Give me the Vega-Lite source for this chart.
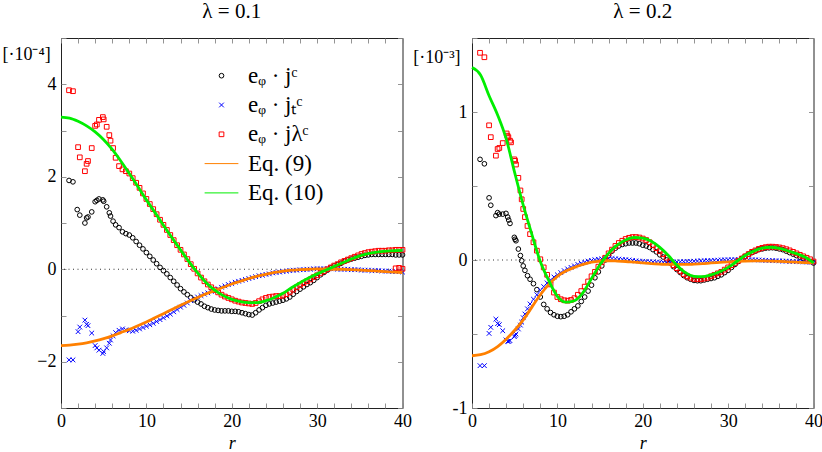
{
  "$schema": "https://vega.github.io/schema/vega-lite/v6.json",
  "padding": {"left": 1, "top": 0, "right": 0, "bottom": 0},
  "background": "white",
  "spacing": 0,
  "config": {
    "font": "Liberation Serif",
    "view": {"stroke": "#222", "strokeWidth": 1},
    "axis": {
      "grid": false, "domain": false, "tickSize": -5, "tickColor": "#888", "tickWidth": 0.9,
      "labelFont": "Liberation Serif", "labelFontSize": 18, "labelColor": "black",
      "labelFlush": false, "labelOverlap": false, "labelBound": false,
      "titleFont": "Liberation Serif", "titleFontSize": 18, "titleColor": "black", "titleFontWeight": "normal"
    },
    "title": {"font": "Liberation Serif", "fontSize": 21, "fontWeight": "normal", "color": "black", "offset": 7}
  },
  "resolve": {
    "scale": {"color": "independent", "shape": "independent"},
    "legend": {"color": "independent", "shape": "independent"}
  },
  "datasets": {
    "lp": [
      {"s":"c","r":0.94,"v":1.92},{"s":"c","r":1.4,"v":1.89},{"s":"c","r":1.9,"v":1.29},{"s":"c","r":2.2,"v":1.17},{"s":"c","r":2.8,"v":1.0},{"s":"c","r":3.0,"v":1.11},{"s":"c","r":3.16,"v":1.13},{"s":"c","r":3.6,"v":1.24},{"s":"c","r":4.0,"v":1.46},{"s":"c","r":4.2,"v":1.49},{"s":"c","r":4.45,"v":1.52},{"s":"c","r":4.9,"v":1.5},{"s":"c","r":5.0,"v":1.47},{"s":"c","r":5.35,"v":1.35},{"s":"c","r":5.66,"v":1.22},{"s":"c","r":5.8,"v":1.15},{"s":"c","r":6.1,"v":1.04},{"s":"c","r":6.4,"v":0.96},
      {"s":"c","r":6.8,"v":0.9},{"s":"c","r":7.2,"v":0.81},{"s":"c","r":7.6,"v":0.77},{"s":"c","r":8.0,"v":0.74},{"s":"c","r":8.4,"v":0.68},{"s":"c","r":8.8,"v":0.6},{"s":"c","r":9.2,"v":0.52},{"s":"c","r":9.6,"v":0.44},{"s":"c","r":10.0,"v":0.36},{"s":"c","r":10.4,"v":0.28},{"s":"c","r":10.8,"v":0.2},{"s":"c","r":11.2,"v":0.12},{"s":"c","r":11.6,"v":0.04},{"s":"c","r":12.0,"v":-0.03},{"s":"c","r":12.4,"v":-0.1},{"s":"c","r":12.8,"v":-0.18},{"s":"c","r":13.2,"v":-0.26},{"s":"c","r":13.6,"v":-0.34},{"s":"c","r":14.0,"v":-0.42},{"s":"c","r":14.4,"v":-0.49},{"s":"c","r":14.8,"v":-0.55},{"s":"c","r":15.2,"v":-0.61},{"s":"c","r":15.6,"v":-0.66},{"s":"c","r":16.0,"v":-0.71},{"s":"c","r":16.4,"v":-0.75},{"s":"c","r":16.8,"v":-0.8},{"s":"c","r":17.2,"v":-0.83},{"s":"c","r":17.6,"v":-0.86},{"s":"c","r":18.0,"v":-0.88},{"s":"c","r":18.4,"v":-0.89},{"s":"c","r":18.8,"v":-0.9},{"s":"c","r":19.2,"v":-0.9},{"s":"c","r":19.6,"v":-0.9},{"s":"c","r":20.0,"v":-0.91},{"s":"c","r":20.4,"v":-0.91},{"s":"c","r":20.8,"v":-0.92},{"s":"c","r":21.2,"v":-0.94},{"s":"c","r":21.6,"v":-0.96},{"s":"c","r":22.0,"v":-0.98},{"s":"c","r":22.4,"v":-0.99},{"s":"c","r":22.8,"v":-0.94},{"s":"c","r":23.2,"v":-0.88},{"s":"c","r":23.6,"v":-0.83},{"s":"c","r":24.0,"v":-0.78},{"s":"c","r":24.4,"v":-0.75},{"s":"c","r":24.8,"v":-0.73},{"s":"c","r":25.2,"v":-0.71},{"s":"c","r":25.6,"v":-0.69},{"s":"c","r":26.0,"v":-0.67},{"s":"c","r":26.4,"v":-0.64},{"s":"c","r":26.8,"v":-0.6},{"s":"c","r":27.2,"v":-0.54},{"s":"c","r":27.6,"v":-0.48},{"s":"c","r":28.0,"v":-0.43},{"s":"c","r":28.4,"v":-0.38},{"s":"c","r":28.8,"v":-0.33},{"s":"c","r":29.2,"v":-0.29},{"s":"c","r":29.6,"v":-0.24},{"s":"c","r":30.0,"v":-0.18},{"s":"c","r":30.4,"v":-0.12},{"s":"c","r":30.8,"v":-0.07},{"s":"c","r":31.2,"v":-0.02},{"s":"c","r":31.6,"v":0.03},{"s":"c","r":32.0,"v":0.07},{"s":"c","r":32.4,"v":0.1},{"s":"c","r":32.8,"v":0.13},{"s":"c","r":33.2,"v":0.17},{"s":"c","r":33.6,"v":0.2},{"s":"c","r":34.0,"v":0.22},{"s":"c","r":34.4,"v":0.24},{"s":"c","r":34.8,"v":0.26},{"s":"c","r":35.2,"v":0.28},{"s":"c","r":35.6,"v":0.3},{"s":"c","r":36.0,"v":0.31},{"s":"c","r":36.4,"v":0.32},{"s":"c","r":36.8,"v":0.32},{"s":"c","r":37.2,"v":0.32},{"s":"c","r":37.6,"v":0.32},{"s":"c","r":38.0,"v":0.32},{"s":"c","r":38.4,"v":0.32},{"s":"c","r":38.8,"v":0.32},{"s":"c","r":39.2,"v":0.31},{"s":"c","r":39.6,"v":0.31},{"s":"c","r":40.0,"v":0.31},
      {"s":"t","r":0.94,"v":-1.96},{"s":"t","r":1.4,"v":-1.96},{"s":"t","r":2.0,"v":-1.35},{"s":"t","r":2.2,"v":-1.25},{"s":"t","r":2.8,"v":-1.1},{"s":"t","r":3.0,"v":-1.19},{"s":"t","r":3.16,"v":-1.22},{"s":"t","r":3.6,"v":-1.38},{"s":"t","r":4.0,"v":-1.65},{"s":"t","r":4.2,"v":-1.7},{"s":"t","r":4.45,"v":-1.75},{"s":"t","r":4.9,"v":-1.82},{"s":"t","r":5.0,"v":-1.78},{"s":"t","r":5.35,"v":-1.7},{"s":"t","r":5.66,"v":-1.6},{"s":"t","r":5.8,"v":-1.53},{"s":"t","r":6.1,"v":-1.44},{"s":"t","r":6.4,"v":-1.37},
      {"s":"t","r":6.8,"v":-1.32},{"s":"t","r":7.2,"v":-1.29},{"s":"t","r":7.6,"v":-1.31},{"s":"t","r":8.0,"v":-1.33},{"s":"t","r":8.4,"v":-1.34},{"s":"t","r":8.8,"v":-1.32},{"s":"t","r":9.2,"v":-1.29},{"s":"t","r":9.6,"v":-1.26},{"s":"t","r":10.0,"v":-1.23},{"s":"t","r":10.4,"v":-1.2},{"s":"t","r":10.8,"v":-1.17},{"s":"t","r":11.2,"v":-1.13},{"s":"t","r":11.6,"v":-1.09},{"s":"t","r":12.0,"v":-1.05},{"s":"t","r":12.4,"v":-1.01},{"s":"t","r":12.8,"v":-0.97},{"s":"t","r":13.2,"v":-0.92},{"s":"t","r":13.6,"v":-0.87},{"s":"t","r":14.0,"v":-0.82},{"s":"t","r":14.4,"v":-0.78},{"s":"t","r":14.8,"v":-0.73},{"s":"t","r":15.2,"v":-0.68},{"s":"t","r":15.6,"v":-0.64},{"s":"t","r":16.0,"v":-0.6},{"s":"t","r":16.4,"v":-0.57},{"s":"t","r":16.8,"v":-0.54},{"s":"t","r":17.2,"v":-0.51},{"s":"t","r":17.6,"v":-0.48},{"s":"t","r":18.0,"v":-0.45},{"s":"t","r":18.4,"v":-0.42},{"s":"t","r":18.8,"v":-0.39},{"s":"t","r":19.2,"v":-0.36},{"s":"t","r":19.6,"v":-0.33},{"s":"t","r":20.0,"v":-0.31},{"s":"t","r":20.4,"v":-0.28},{"s":"t","r":20.8,"v":-0.26},{"s":"t","r":21.2,"v":-0.24},{"s":"t","r":21.6,"v":-0.22},{"s":"t","r":22.0,"v":-0.2},{"s":"t","r":22.4,"v":-0.18},{"s":"t","r":22.8,"v":-0.16},{"s":"t","r":23.2,"v":-0.14},{"s":"t","r":23.6,"v":-0.13},{"s":"t","r":24.0,"v":-0.11},{"s":"t","r":24.4,"v":-0.1},{"s":"t","r":24.8,"v":-0.08},{"s":"t","r":25.2,"v":-0.07},{"s":"t","r":25.6,"v":-0.06},{"s":"t","r":26.0,"v":-0.05},{"s":"t","r":26.4,"v":-0.04},{"s":"t","r":26.8,"v":-0.03},{"s":"t","r":27.2,"v":-0.02},{"s":"t","r":27.6,"v":-0.02},{"s":"t","r":28.0,"v":-0.01},{"s":"t","r":28.4,"v":-0.01},{"s":"t","r":28.8,"v":0.0},{"s":"t","r":29.2,"v":0.0},{"s":"t","r":29.6,"v":0.01},{"s":"t","r":30.0,"v":0.01},{"s":"t","r":30.4,"v":0.01},{"s":"t","r":30.8,"v":0.01},{"s":"t","r":31.2,"v":0.01},{"s":"t","r":31.6,"v":0.01},{"s":"t","r":32.0,"v":0.01},{"s":"t","r":32.4,"v":0.0},{"s":"t","r":32.8,"v":0.0},{"s":"t","r":33.2,"v":0.0},{"s":"t","r":33.6,"v":0.0},{"s":"t","r":34.0,"v":-0.01},{"s":"t","r":34.4,"v":-0.01},{"s":"t","r":34.8,"v":-0.01},{"s":"t","r":35.2,"v":-0.02},{"s":"t","r":35.6,"v":-0.02},{"s":"t","r":36.0,"v":-0.02},{"s":"t","r":36.4,"v":-0.03},{"s":"t","r":36.8,"v":-0.03},{"s":"t","r":37.2,"v":-0.03},{"s":"t","r":37.6,"v":-0.04},{"s":"t","r":38.0,"v":-0.04},{"s":"t","r":38.4,"v":-0.04},{"s":"t","r":38.8,"v":-0.05},{"s":"t","r":39.2,"v":-0.05},{"s":"t","r":39.6,"v":-0.05},{"s":"t","r":40.0,"v":-0.06},
      {"s":"l","r":0.94,"v":3.87},{"s":"l","r":1.4,"v":3.85},{"s":"l","r":2.0,"v":2.64},{"s":"l","r":2.2,"v":2.42},{"s":"l","r":2.8,"v":2.12},{"s":"l","r":3.0,"v":2.28},{"s":"l","r":3.16,"v":2.34},{"s":"l","r":3.6,"v":2.62},{"s":"l","r":4.0,"v":3.1},{"s":"l","r":4.2,"v":3.13},{"s":"l","r":4.45,"v":3.23},{"s":"l","r":4.9,"v":3.29},{"s":"l","r":5.0,"v":3.24},{"s":"l","r":5.35,"v":3.08},{"s":"l","r":5.66,"v":2.9},{"s":"l","r":5.8,"v":2.78},{"s":"l","r":6.1,"v":2.62},{"s":"l","r":6.4,"v":2.41},
      {"s":"l","r":6.8,"v":2.23},{"s":"l","r":7.2,"v":2.16},{"s":"l","r":7.6,"v":2.12},{"s":"l","r":8.0,"v":2.07},{"s":"l","r":8.4,"v":1.97},{"s":"l","r":8.8,"v":1.87},{"s":"l","r":9.2,"v":1.76},{"s":"l","r":9.6,"v":1.64},{"s":"l","r":10.0,"v":1.52},{"s":"l","r":10.4,"v":1.41},{"s":"l","r":10.8,"v":1.3},{"s":"l","r":11.2,"v":1.19},{"s":"l","r":11.6,"v":1.07},{"s":"l","r":12.0,"v":0.96},{"s":"l","r":12.4,"v":0.85},{"s":"l","r":12.8,"v":0.74},{"s":"l","r":13.2,"v":0.63},{"s":"l","r":13.6,"v":0.52},{"s":"l","r":14.0,"v":0.42},{"s":"l","r":14.4,"v":0.32},{"s":"l","r":14.8,"v":0.22},{"s":"l","r":15.2,"v":0.11},{"s":"l","r":15.6,"v":0.01},{"s":"l","r":16.0,"v":-0.09},{"s":"l","r":16.4,"v":-0.18},{"s":"l","r":16.8,"v":-0.26},{"s":"l","r":17.2,"v":-0.33},{"s":"l","r":17.6,"v":-0.39},{"s":"l","r":18.0,"v":-0.45},{"s":"l","r":18.4,"v":-0.5},{"s":"l","r":18.8,"v":-0.55},{"s":"l","r":19.2,"v":-0.59},{"s":"l","r":19.6,"v":-0.62},{"s":"l","r":20.0,"v":-0.65},{"s":"l","r":20.4,"v":-0.68},{"s":"l","r":20.8,"v":-0.7},{"s":"l","r":21.2,"v":-0.72},{"s":"l","r":21.6,"v":-0.73},{"s":"l","r":22.0,"v":-0.74},{"s":"l","r":22.4,"v":-0.75},{"s":"l","r":22.8,"v":-0.73},{"s":"l","r":23.2,"v":-0.69},{"s":"l","r":23.6,"v":-0.65},{"s":"l","r":24.0,"v":-0.62},{"s":"l","r":24.4,"v":-0.6},{"s":"l","r":24.8,"v":-0.59},{"s":"l","r":25.2,"v":-0.58},{"s":"l","r":25.6,"v":-0.58},{"s":"l","r":26.0,"v":-0.57},{"s":"l","r":26.4,"v":-0.54},{"s":"l","r":26.8,"v":-0.49},{"s":"l","r":27.2,"v":-0.44},{"s":"l","r":27.6,"v":-0.39},{"s":"l","r":28.0,"v":-0.34},{"s":"l","r":28.4,"v":-0.3},{"s":"l","r":28.8,"v":-0.26},{"s":"l","r":29.2,"v":-0.22},{"s":"l","r":29.6,"v":-0.17},{"s":"l","r":30.0,"v":-0.13},{"s":"l","r":30.4,"v":-0.08},{"s":"l","r":30.8,"v":-0.04},{"s":"l","r":31.2,"v":0.0},{"s":"l","r":31.6,"v":0.04},{"s":"l","r":32.0,"v":0.08},{"s":"l","r":32.4,"v":0.11},{"s":"l","r":32.8,"v":0.15},{"s":"l","r":33.2,"v":0.18},{"s":"l","r":33.6,"v":0.21},{"s":"l","r":34.0,"v":0.24},{"s":"l","r":34.4,"v":0.27},{"s":"l","r":34.8,"v":0.3},{"s":"l","r":35.2,"v":0.33},{"s":"l","r":35.6,"v":0.35},{"s":"l","r":36.0,"v":0.37},{"s":"l","r":36.4,"v":0.38},{"s":"l","r":36.8,"v":0.39},{"s":"l","r":37.2,"v":0.4},{"s":"l","r":37.6,"v":0.4},{"s":"l","r":38.0,"v":0.4},{"s":"l","r":38.4,"v":0.41},{"s":"l","r":38.8,"v":0.41},{"s":"l","r":39.2,"v":0.42},{"s":"l","r":39.6,"v":0.42},{"s":"l","r":40.0,"v":0.42},{"s":"l","r":39.2,"v":0.02},{"s":"l","r":39.6,"v":0.03},{"s":"l","r":40.0,"v":0.01}
    ],
    "lc": [
      {"s":"9","r":0,"v":-1.65},{"s":"9","r":1,"v":-1.64},{"s":"9","r":2,"v":-1.62},{"s":"9","r":3,"v":-1.59},{"s":"9","r":4,"v":-1.55},{"s":"9","r":5,"v":-1.5},{"s":"9","r":6,"v":-1.44},{"s":"9","r":7,"v":-1.37},{"s":"9","r":8,"v":-1.3},{"s":"9","r":9,"v":-1.22},{"s":"9","r":10,"v":-1.14},{"s":"9","r":11,"v":-1.05},{"s":"9","r":12,"v":-0.96},{"s":"9","r":13,"v":-0.87},{"s":"9","r":14,"v":-0.78},{"s":"9","r":15,"v":-0.69},{"s":"9","r":16,"v":-0.61},{"s":"9","r":17,"v":-0.53},{"s":"9","r":18,"v":-0.46},{"s":"9","r":19,"v":-0.39},{"s":"9","r":20,"v":-0.32},{"s":"9","r":21,"v":-0.26},{"s":"9","r":22,"v":-0.2},{"s":"9","r":23,"v":-0.15},{"s":"9","r":24,"v":-0.11},{"s":"9","r":25,"v":-0.07},{"s":"9","r":26,"v":-0.04},{"s":"9","r":27,"v":-0.02},{"s":"9","r":28,"v":-0.01},{"s":"9","r":29,"v":0.0},{"s":"9","r":30,"v":0.01},{"s":"9","r":31,"v":0.01},{"s":"9","r":32,"v":0.0},{"s":"9","r":33,"v":0.0},{"s":"9","r":34,"v":-0.01},{"s":"9","r":35,"v":-0.02},{"s":"9","r":36,"v":-0.03},{"s":"9","r":37,"v":-0.04},{"s":"9","r":38,"v":-0.05},{"s":"9","r":39,"v":-0.06},{"s":"9","r":40,"v":-0.07},
      {"s":"10","r":0,"v":3.29},{"s":"10","r":1,"v":3.27},{"s":"10","r":2,"v":3.2},{"s":"10","r":3,"v":3.1},{"s":"10","r":4,"v":2.97},{"s":"10","r":5,"v":2.8},{"s":"10","r":6,"v":2.59},{"s":"10","r":7,"v":2.34},{"s":"10","r":8,"v":2.07},{"s":"10","r":9,"v":1.79},{"s":"10","r":10,"v":1.5},{"s":"10","r":11,"v":1.23},{"s":"10","r":12,"v":0.95},{"s":"10","r":13,"v":0.68},{"s":"10","r":14,"v":0.42},{"s":"10","r":15,"v":0.16},{"s":"10","r":16,"v":-0.08},{"s":"10","r":17,"v":-0.29},{"s":"10","r":18,"v":-0.45},{"s":"10","r":19,"v":-0.57},{"s":"10","r":20,"v":-0.65},{"s":"10","r":21,"v":-0.7},{"s":"10","r":22,"v":-0.72},{"s":"10","r":23,"v":-0.72},{"s":"10","r":24,"v":-0.68},{"s":"10","r":25,"v":-0.61},{"s":"10","r":26,"v":-0.52},{"s":"10","r":27,"v":-0.4},{"s":"10","r":28,"v":-0.29},{"s":"10","r":29,"v":-0.19},{"s":"10","r":30,"v":-0.1},{"s":"10","r":31,"v":-0.02},{"s":"10","r":32,"v":0.06},{"s":"10","r":33,"v":0.14},{"s":"10","r":34,"v":0.22},{"s":"10","r":35,"v":0.29},{"s":"10","r":36,"v":0.34},{"s":"10","r":37,"v":0.37},{"s":"10","r":38,"v":0.39},{"s":"10","r":39,"v":0.4},{"s":"10","r":40,"v":0.41}
    ],
    "rp": [
      {"s":"c","r":0.94,"v":0.68},{"s":"c","r":1.45,"v":0.65},{"s":"c","r":2.0,"v":0.42},{"s":"c","r":2.2,"v":0.37},{"s":"c","r":2.8,"v":0.3},{"s":"c","r":3.0,"v":0.32},{"s":"c","r":3.2,"v":0.31},{"s":"c","r":3.6,"v":0.31},{"s":"c","r":3.98,"v":0.315},{"s":"c","r":4.18,"v":0.29},{"s":"c","r":4.3,"v":0.27},{"s":"c","r":4.45,"v":0.247},{"s":"c","r":4.96,"v":0.153},{"s":"c","r":5.05,"v":0.14},{"s":"c","r":5.15,"v":0.13},{"s":"c","r":5.43,"v":0.074},{"s":"c","r":5.67,"v":0.03},{"s":"c","r":5.82,"v":-0.005},{"s":"c","r":6.0,"v":-0.04},{"s":"c","r":6.2,"v":-0.07},{"s":"c","r":6.5,"v":-0.106},{"s":"c","r":6.8,"v":-0.13},
      {"s":"c","r":7.2,"v":-0.16},{"s":"c","r":7.6,"v":-0.2},{"s":"c","r":8.0,"v":-0.25},{"s":"c","r":8.4,"v":-0.3},{"s":"c","r":8.8,"v":-0.33},{"s":"c","r":9.2,"v":-0.355},{"s":"c","r":9.6,"v":-0.37},{"s":"c","r":10.0,"v":-0.38},{"s":"c","r":10.4,"v":-0.383},{"s":"c","r":10.8,"v":-0.38},{"s":"c","r":11.2,"v":-0.37},{"s":"c","r":11.6,"v":-0.35},{"s":"c","r":12.0,"v":-0.33},{"s":"c","r":12.4,"v":-0.31},{"s":"c","r":12.8,"v":-0.28},{"s":"c","r":13.2,"v":-0.25},{"s":"c","r":13.6,"v":-0.21},{"s":"c","r":14.0,"v":-0.17},{"s":"c","r":14.4,"v":-0.12},{"s":"c","r":14.8,"v":-0.08},{"s":"c","r":15.2,"v":-0.04},{"s":"c","r":15.6,"v":0.0},{"s":"c","r":16.0,"v":0.03},{"s":"c","r":16.4,"v":0.06},{"s":"c","r":16.8,"v":0.08},{"s":"c","r":17.2,"v":0.095},{"s":"c","r":17.6,"v":0.105},{"s":"c","r":18.0,"v":0.11},{"s":"c","r":18.4,"v":0.115},{"s":"c","r":18.8,"v":0.115},{"s":"c","r":19.2,"v":0.115},{"s":"c","r":19.6,"v":0.11},{"s":"c","r":20.0,"v":0.1},{"s":"c","r":20.4,"v":0.095},{"s":"c","r":20.8,"v":0.085},{"s":"c","r":21.2,"v":0.07},{"s":"c","r":21.6,"v":0.055},{"s":"c","r":22.0,"v":0.035},{"s":"c","r":22.4,"v":0.02},{"s":"c","r":22.8,"v":0.0},{"s":"c","r":23.2,"v":-0.02},{"s":"c","r":23.6,"v":-0.045},{"s":"c","r":24.0,"v":-0.065},{"s":"c","r":24.4,"v":-0.085},{"s":"c","r":24.8,"v":-0.105},{"s":"c","r":25.2,"v":-0.12},{"s":"c","r":25.6,"v":-0.13},{"s":"c","r":26.0,"v":-0.138},{"s":"c","r":26.4,"v":-0.14},{"s":"c","r":26.8,"v":-0.14},{"s":"c","r":27.2,"v":-0.135},{"s":"c","r":27.6,"v":-0.13},{"s":"c","r":28.0,"v":-0.125},{"s":"c","r":28.4,"v":-0.12},{"s":"c","r":28.8,"v":-0.11},{"s":"c","r":29.2,"v":-0.1},{"s":"c","r":29.6,"v":-0.085},{"s":"c","r":30.0,"v":-0.07},{"s":"c","r":30.4,"v":-0.05},{"s":"c","r":30.8,"v":-0.03},{"s":"c","r":31.2,"v":-0.01},{"s":"c","r":31.6,"v":0.01},{"s":"c","r":32.0,"v":0.025},{"s":"c","r":32.4,"v":0.04},{"s":"c","r":32.8,"v":0.05},{"s":"c","r":33.2,"v":0.06},{"s":"c","r":33.6,"v":0.07},{"s":"c","r":34.0,"v":0.075},{"s":"c","r":34.4,"v":0.08},{"s":"c","r":34.8,"v":0.082},{"s":"c","r":35.2,"v":0.083},{"s":"c","r":35.6,"v":0.08},{"s":"c","r":36.0,"v":0.075},{"s":"c","r":36.4,"v":0.07},{"s":"c","r":36.8,"v":0.06},{"s":"c","r":37.2,"v":0.05},{"s":"c","r":37.6,"v":0.04},{"s":"c","r":38.0,"v":0.03},{"s":"c","r":38.4,"v":0.02},{"s":"c","r":38.8,"v":0.01},{"s":"c","r":39.2,"v":0.0},{"s":"c","r":39.6,"v":-0.01},{"s":"c","r":40.0,"v":-0.02},
      {"s":"t","r":0.94,"v":-0.714},{"s":"t","r":1.45,"v":-0.714},{"s":"t","r":2.0,"v":-0.496},{"s":"t","r":2.2,"v":-0.455},{"s":"t","r":2.8,"v":-0.4},{"s":"t","r":3.0,"v":-0.43},{"s":"t","r":3.2,"v":-0.437},{"s":"t","r":3.6,"v":-0.478},{"s":"t","r":3.98,"v":-0.54},{"s":"t","r":4.18,"v":-0.55},{"s":"t","r":4.3,"v":-0.55},{"s":"t","r":4.45,"v":-0.545},{"s":"t","r":4.96,"v":-0.518},{"s":"t","r":5.05,"v":-0.51},{"s":"t","r":5.15,"v":-0.5},{"s":"t","r":5.43,"v":-0.466},{"s":"t","r":5.67,"v":-0.44},{"s":"t","r":5.82,"v":-0.42},{"s":"t","r":6.0,"v":-0.39},{"s":"t","r":6.2,"v":-0.365},{"s":"t","r":6.5,"v":-0.33},{"s":"t","r":6.8,"v":-0.297},
      {"s":"t","r":7.2,"v":-0.265},{"s":"t","r":7.6,"v":-0.235},{"s":"t","r":8.0,"v":-0.205},{"s":"t","r":8.4,"v":-0.18},{"s":"t","r":8.8,"v":-0.155},{"s":"t","r":9.2,"v":-0.135},{"s":"t","r":9.6,"v":-0.115},{"s":"t","r":10.0,"v":-0.1},{"s":"t","r":10.4,"v":-0.085},{"s":"t","r":10.8,"v":-0.072},{"s":"t","r":11.2,"v":-0.06},{"s":"t","r":11.6,"v":-0.05},{"s":"t","r":12.0,"v":-0.04},{"s":"t","r":12.4,"v":-0.03},{"s":"t","r":12.8,"v":-0.022},{"s":"t","r":13.2,"v":-0.015},{"s":"t","r":13.6,"v":-0.008},{"s":"t","r":14.0,"v":-0.003},{"s":"t","r":14.4,"v":0.002},{"s":"t","r":14.8,"v":0.005},{"s":"t","r":15.2,"v":0.008},{"s":"t","r":15.6,"v":0.01},{"s":"t","r":16.0,"v":0.01},{"s":"t","r":16.4,"v":0.01},{"s":"t","r":16.8,"v":0.008},{"s":"t","r":17.2,"v":0.006},{"s":"t","r":17.6,"v":0.004},{"s":"t","r":18.0,"v":0.002},{"s":"t","r":18.4,"v":0.0},{"s":"t","r":18.8,"v":-0.003},{"s":"t","r":19.2,"v":-0.006},{"s":"t","r":19.6,"v":-0.008},{"s":"t","r":20.0,"v":-0.01},{"s":"t","r":20.4,"v":-0.011},{"s":"t","r":20.8,"v":-0.012},{"s":"t","r":21.2,"v":-0.013},{"s":"t","r":21.6,"v":-0.014},{"s":"t","r":22.0,"v":-0.015},{"s":"t","r":22.4,"v":-0.015},{"s":"t","r":22.8,"v":-0.015},{"s":"t","r":23.2,"v":-0.015},{"s":"t","r":23.6,"v":-0.014},{"s":"t","r":24.0,"v":-0.013},{"s":"t","r":24.4,"v":-0.012},{"s":"t","r":24.8,"v":-0.011},{"s":"t","r":25.2,"v":-0.01},{"s":"t","r":25.6,"v":-0.009},{"s":"t","r":26.0,"v":-0.008},{"s":"t","r":26.4,"v":-0.007},{"s":"t","r":26.8,"v":-0.006},{"s":"t","r":27.2,"v":-0.005},{"s":"t","r":27.6,"v":-0.004},{"s":"t","r":28.0,"v":-0.003},{"s":"t","r":28.4,"v":-0.002},{"s":"t","r":28.8,"v":-0.001},{"s":"t","r":29.2,"v":0.0},{"s":"t","r":29.6,"v":0.001},{"s":"t","r":30.0,"v":0.002},{"s":"t","r":30.4,"v":0.002},{"s":"t","r":30.8,"v":0.003},{"s":"t","r":31.2,"v":0.003},{"s":"t","r":31.6,"v":0.003},{"s":"t","r":32.0,"v":0.003},{"s":"t","r":32.4,"v":0.002},{"s":"t","r":32.8,"v":0.002},{"s":"t","r":33.2,"v":0.001},{"s":"t","r":33.6,"v":0.0},{"s":"t","r":34.0,"v":-0.001},{"s":"t","r":34.4,"v":-0.002},{"s":"t","r":34.8,"v":-0.003},{"s":"t","r":35.2,"v":-0.004},{"s":"t","r":35.6,"v":-0.005},{"s":"t","r":36.0,"v":-0.006},{"s":"t","r":36.4,"v":-0.007},{"s":"t","r":36.8,"v":-0.008},{"s":"t","r":37.2,"v":-0.009},{"s":"t","r":37.6,"v":-0.01},{"s":"t","r":38.0,"v":-0.011},{"s":"t","r":38.4,"v":-0.012},{"s":"t","r":38.8,"v":-0.013},{"s":"t","r":39.2,"v":-0.014},{"s":"t","r":39.6,"v":-0.015},{"s":"t","r":40.0,"v":-0.016},
      {"s":"l","r":0.94,"v":1.4},{"s":"l","r":1.45,"v":1.37},{"s":"l","r":2.0,"v":0.91},{"s":"l","r":2.2,"v":0.83},{"s":"l","r":2.8,"v":0.705},{"s":"l","r":3.0,"v":0.75},{"s":"l","r":3.2,"v":0.757},{"s":"l","r":3.6,"v":0.79},{"s":"l","r":4.06,"v":0.855},{"s":"l","r":4.15,"v":0.84},{"s":"l","r":4.26,"v":0.83},{"s":"l","r":4.45,"v":0.806},{"s":"l","r":4.57,"v":0.795},{"s":"l","r":4.96,"v":0.68},{"s":"l","r":5.05,"v":0.67},{"s":"l","r":5.15,"v":0.645},{"s":"l","r":5.43,"v":0.555},{"s":"l","r":5.67,"v":0.47},{"s":"l","r":5.82,"v":0.41},{"s":"l","r":6.0,"v":0.345},{"s":"l","r":6.2,"v":0.29},{"s":"l","r":6.5,"v":0.23},{"s":"l","r":6.8,"v":0.175},
      {"s":"l","r":7.2,"v":0.12},{"s":"l","r":7.6,"v":0.063},{"s":"l","r":8.0,"v":0.005},{"s":"l","r":8.4,"v":-0.05},{"s":"l","r":8.8,"v":-0.1},{"s":"l","r":9.2,"v":-0.165},{"s":"l","r":9.6,"v":-0.22},{"s":"l","r":10.0,"v":-0.25},{"s":"l","r":10.4,"v":-0.265},{"s":"l","r":10.8,"v":-0.272},{"s":"l","r":11.2,"v":-0.275},{"s":"l","r":11.6,"v":-0.27},{"s":"l","r":12.0,"v":-0.258},{"s":"l","r":12.4,"v":-0.235},{"s":"l","r":12.8,"v":-0.21},{"s":"l","r":13.2,"v":-0.18},{"s":"l","r":13.6,"v":-0.145},{"s":"l","r":14.0,"v":-0.11},{"s":"l","r":14.4,"v":-0.08},{"s":"l","r":14.8,"v":-0.045},{"s":"l","r":15.2,"v":-0.015},{"s":"l","r":15.6,"v":0.015},{"s":"l","r":16.0,"v":0.045},{"s":"l","r":16.4,"v":0.07},{"s":"l","r":16.8,"v":0.095},{"s":"l","r":17.2,"v":0.115},{"s":"l","r":17.6,"v":0.13},{"s":"l","r":18.0,"v":0.142},{"s":"l","r":18.4,"v":0.15},{"s":"l","r":18.8,"v":0.155},{"s":"l","r":19.2,"v":0.155},{"s":"l","r":19.6,"v":0.152},{"s":"l","r":20.0,"v":0.145},{"s":"l","r":20.4,"v":0.135},{"s":"l","r":20.8,"v":0.12},{"s":"l","r":21.2,"v":0.1},{"s":"l","r":21.6,"v":0.08},{"s":"l","r":22.0,"v":0.06},{"s":"l","r":22.4,"v":0.04},{"s":"l","r":22.8,"v":0.015},{"s":"l","r":23.2,"v":-0.01},{"s":"l","r":23.6,"v":-0.035},{"s":"l","r":24.0,"v":-0.055},{"s":"l","r":24.4,"v":-0.075},{"s":"l","r":24.8,"v":-0.095},{"s":"l","r":25.2,"v":-0.11},{"s":"l","r":25.6,"v":-0.12},{"s":"l","r":26.0,"v":-0.128},{"s":"l","r":26.4,"v":-0.13},{"s":"l","r":26.8,"v":-0.13},{"s":"l","r":27.2,"v":-0.125},{"s":"l","r":27.6,"v":-0.12},{"s":"l","r":28.0,"v":-0.11},{"s":"l","r":28.4,"v":-0.1},{"s":"l","r":28.8,"v":-0.09},{"s":"l","r":29.2,"v":-0.08},{"s":"l","r":29.6,"v":-0.065},{"s":"l","r":30.0,"v":-0.05},{"s":"l","r":30.4,"v":-0.035},{"s":"l","r":30.8,"v":-0.02},{"s":"l","r":31.2,"v":-0.005},{"s":"l","r":31.6,"v":0.01},{"s":"l","r":32.0,"v":0.025},{"s":"l","r":32.4,"v":0.04},{"s":"l","r":32.8,"v":0.055},{"s":"l","r":33.2,"v":0.065},{"s":"l","r":33.6,"v":0.075},{"s":"l","r":34.0,"v":0.082},{"s":"l","r":34.4,"v":0.087},{"s":"l","r":34.8,"v":0.09},{"s":"l","r":35.2,"v":0.09},{"s":"l","r":35.6,"v":0.088},{"s":"l","r":36.0,"v":0.085},{"s":"l","r":36.4,"v":0.08},{"s":"l","r":36.8,"v":0.073},{"s":"l","r":37.2,"v":0.065},{"s":"l","r":37.6,"v":0.055},{"s":"l","r":38.0,"v":0.045},{"s":"l","r":38.4,"v":0.035},{"s":"l","r":38.8,"v":0.025},{"s":"l","r":39.2,"v":0.015},{"s":"l","r":39.6,"v":0.005},{"s":"l","r":40.0,"v":-0.01}
    ],
    "rc": [
      {"s":"9","r":0,"v":-0.647},{"s":"9","r":1,"v":-0.64},{"s":"9","r":2,"v":-0.62},{"s":"9","r":3,"v":-0.585},{"s":"9","r":4,"v":-0.535},{"s":"9","r":5,"v":-0.475},{"s":"9","r":6,"v":-0.405},{"s":"9","r":7,"v":-0.32},{"s":"9","r":8,"v":-0.235},{"s":"9","r":9,"v":-0.165},{"s":"9","r":10,"v":-0.11},{"s":"9","r":11,"v":-0.075},{"s":"9","r":12,"v":-0.05},{"s":"9","r":13,"v":-0.03},{"s":"9","r":14,"v":-0.015},{"s":"9","r":15,"v":-0.007},{"s":"9","r":16,"v":-0.005},{"s":"9","r":17,"v":-0.007},{"s":"9","r":18,"v":-0.01},{"s":"9","r":19,"v":-0.015},{"s":"9","r":20,"v":-0.02},{"s":"9","r":21,"v":-0.025},{"s":"9","r":22,"v":-0.028},{"s":"9","r":23,"v":-0.03},{"s":"9","r":24,"v":-0.03},{"s":"9","r":25,"v":-0.03},{"s":"9","r":26,"v":-0.028},{"s":"9","r":27,"v":-0.025},{"s":"9","r":28,"v":-0.02},{"s":"9","r":29,"v":-0.016},{"s":"9","r":30,"v":-0.012},{"s":"9","r":31,"v":-0.009},{"s":"9","r":32,"v":-0.007},{"s":"9","r":33,"v":-0.006},{"s":"9","r":34,"v":-0.006},{"s":"9","r":35,"v":-0.007},{"s":"9","r":36,"v":-0.009},{"s":"9","r":37,"v":-0.012},{"s":"9","r":38,"v":-0.015},{"s":"9","r":39,"v":-0.018},{"s":"9","r":40,"v":-0.02},
      {"s":"10","r":0,"v":1.3},{"s":"10","r":1,"v":1.25},{"s":"10","r":2,"v":1.11},{"s":"10","r":3,"v":0.98},{"s":"10","r":4,"v":0.82},{"s":"10","r":5,"v":0.59},{"s":"10","r":6,"v":0.37},{"s":"10","r":7,"v":0.175},{"s":"10","r":8,"v":-0.01},{"s":"10","r":9,"v":-0.14},{"s":"10","r":10,"v":-0.245},{"s":"10","r":11,"v":-0.285},{"s":"10","r":12,"v":-0.275},{"s":"10","r":13,"v":-0.22},{"s":"10","r":14,"v":-0.125},{"s":"10","r":15,"v":-0.03},{"s":"10","r":16,"v":0.045},{"s":"10","r":17,"v":0.1},{"s":"10","r":18,"v":0.135},{"s":"10","r":19,"v":0.152},{"s":"10","r":20,"v":0.148},{"s":"10","r":21,"v":0.127},{"s":"10","r":22,"v":0.085},{"s":"10","r":23,"v":0.03},{"s":"10","r":24,"v":-0.035},{"s":"10","r":25,"v":-0.085},{"s":"10","r":26,"v":-0.11},{"s":"10","r":27,"v":-0.113},{"s":"10","r":28,"v":-0.1},{"s":"10","r":29,"v":-0.08},{"s":"10","r":30,"v":-0.05},{"s":"10","r":31,"v":-0.01},{"s":"10","r":32,"v":0.03},{"s":"10","r":33,"v":0.06},{"s":"10","r":34,"v":0.08},{"s":"10","r":35,"v":0.086},{"s":"10","r":36,"v":0.078},{"s":"10","r":37,"v":0.062},{"s":"10","r":38,"v":0.043},{"s":"10","r":39,"v":0.02},{"s":"10","r":40,"v":-0.02}
    ]
  },
  "hconcat": [
    {
      "width": 341.5,
      "height": 370,
      "title": {"text": "λ = 0.1"},
      "resolve": {"axis": {"x": "independent", "y": "independent"}},
      "layer": [
        {
          "data": {"values": [{"v": 0}]},
          "mark": {"type": "rule", "color": "#333", "strokeWidth": 1, "strokeDash": [1, 3.5]},
          "encoding": {"y": {"field": "v", "type": "quantitative", "scale": {"domain": [-3, 5], "nice": false}, "axis": null}}
        },
        {
          "data": {"name": "lp"},
          "mark": {"type": "point", "filled": false, "size": 22, "strokeWidth": 1, "opacity": 1},
          "encoding": {
            "x": {"field": "r", "type": "quantitative", "scale": {"domain": [0, 40], "nice": false},
              "axis": {"values": [0,2,4,6,8,10,12,14,16,18,20,22,24,26,28,30,32,34,36,38,40], "labelExpr": "datum.value % 10 === 0 ? datum.label : ''", "labelPadding": 9.4, "title": "r", "titleFontStyle": "italic", "titlePadding": 4,
                "encode": {"ticks": {"update": {"y2": {"signal": "datum.value % 10 === 0 ? -7 : -3.5"}}}}}},
            "y": {"field": "v", "type": "quantitative", "scale": {"domain": [-3, 5], "nice": false},
              "axis": {"values": [-3,-2,-1,0,1,2,3,4,5], "labelExpr": "datum.value % 2 === 0 ? datum.label : ''", "labelPadding": 10, "title": "[·10⁻⁴]", "titleAngle": 0, "titleAlign": "left", "titleBaseline": "middle", "titleX": -59, "titleY": 16,
                "encode": {"ticks": {"update": {"x2": {"signal": "datum.value % 2 === 0 ? 7 : 3.5"}}}}}},
            "color": {"field": "s", "type": "nominal",
              "scale": {"domain": ["c", "t", "l", "9", "10"], "range": ["black", "#0000ff", "#ff0000", "#ff8000", "#00ee00"]},
              "legend": {
                "orient": "none", "legendX": 149, "legendY": 26.2, "title": null, "padding": 0,
                "rowPadding": 5.3, "labelOffset": 15, "labelFontSize": 23, "labelFont": "Liberation Serif", "labelColor": "black", "labelLimit": 0,
                "symbolSize": 22, "symbolStrokeWidth": 1,
                "labelExpr": "datum.value == 'c' ? 'eᵩ · jᶜ' : datum.value == 't' ? 'eᵩ · jₜᶜ' : datum.value == 'l' ? 'eᵩ · jλᶜ' : datum.value == '9' ? 'Eq. (9)' : 'Eq. (10)'",
                "encode": {
                  "symbols": {"update": {"strokeWidth": {"signal": "datum.value == '9' || datum.value == '10' ? 2.8 : 1"}}},
                  "labels": {"update": {
                    "fontStyle": {"signal": "datum.value == '9' || datum.value == '10' ? 'normal' : 'italic'"},
                    "fontWeight": {"signal": "datum.value == '9' || datum.value == '10' ? 'normal' : 'bold'"}
                  }}
                }
              }},
            "shape": {"field": "s", "type": "nominal",
              "scale": {"domain": ["c", "t", "l", "9", "10"], "range": ["circle", "M-1,-1L1,1M1,-1L-1,1", "square", "M-7.2,0H7.2", "M-7.2,0H7.2"]}}
          }
        },
        {
          "data": {"name": "lc"},
          "mark": {"type": "line", "strokeWidth": 2.8, "interpolate": "monotone"},
          "encoding": {
            "x": {"field": "r", "type": "quantitative", "axis": {"orient": "top", "labels": false, "title": null, "values": [0,2,4,6,8,10,12,14,16,18,20,22,24,26,28,30,32,34,36,38,40],
              "encode": {"ticks": {"update": {"y2": {"signal": "datum.value % 10 === 0 ? 7 : 3.5"}}}}}},
            "y": {"field": "v", "type": "quantitative", "axis": {"orient": "right", "labels": false, "title": null, "values": [-3,-2,-1,0,1,2,3,4,5],
              "encode": {"ticks": {"update": {"x2": {"signal": "datum.value % 2 === 0 ? -7 : -3.5"}}}}}},
            "color": {"field": "s", "type": "nominal", "legend": null}
          }
        }
      ]
    },
    {
      "width": 341.5,
      "height": 370,
      "title": {"text": "λ = 0.2"},
      "resolve": {"axis": {"x": "independent", "y": "independent"}},
      "layer": [
        {
          "data": {"values": [{"v": 0}]},
          "mark": {"type": "rule", "color": "#333", "strokeWidth": 1, "strokeDash": [1, 3.5]},
          "encoding": {"y": {"field": "v", "type": "quantitative", "scale": {"domain": [-1, 1.5], "nice": false}, "axis": null}}
        },
        {
          "data": {"name": "rp"},
          "mark": {"type": "point", "filled": false, "size": 22, "strokeWidth": 1, "opacity": 1},
          "encoding": {
            "x": {"field": "r", "type": "quantitative", "scale": {"domain": [0, 40], "nice": false},
              "axis": {"values": [0,2,4,6,8,10,12,14,16,18,20,22,24,26,28,30,32,34,36,38,40], "labelExpr": "datum.value % 10 === 0 ? datum.label : ''", "labelPadding": 9.4, "title": "r", "titleFontStyle": "italic", "titlePadding": 4,
                "encode": {"ticks": {"update": {"y2": {"signal": "datum.value % 10 === 0 ? -7 : -3.5"}}}}}},
            "y": {"field": "v", "type": "quantitative", "scale": {"domain": [-1, 1.5], "nice": false},
              "axis": {"values": [-1,-0.5,0,0.5,1,1.5], "labelExpr": "datum.value === 1 ? '1' : datum.value === 0 ? '0' : datum.value === -1 ? '-1' : ''", "labelPadding": 10, "title": "[·10⁻³]", "titleAngle": 0, "titleAlign": "left", "titleBaseline": "middle", "titleX": -59.3, "titleY": 19,
                "encode": {"ticks": {"update": {"x2": {"signal": "datum.value % 1 === 0 ? 7 : 3.5"}}}}}},
            "color": {"field": "s", "type": "nominal",
              "scale": {"domain": ["c", "t", "l", "9", "10"], "range": ["black", "#0000ff", "#ff0000", "#ff8000", "#00ee00"]}, "legend": null},
            "shape": {"field": "s", "type": "nominal",
              "scale": {"domain": ["c", "t", "l", "9", "10"], "range": ["circle", "M-1,-1L1,1M1,-1L-1,1", "square", "M-7.2,0H7.2", "M-7.2,0H7.2"]}, "legend": null}
          }
        },
        {
          "data": {"name": "rc"},
          "mark": {"type": "line", "strokeWidth": 2.8, "interpolate": "monotone"},
          "encoding": {
            "x": {"field": "r", "type": "quantitative", "axis": {"orient": "top", "labels": false, "title": null, "values": [0,2,4,6,8,10,12,14,16,18,20,22,24,26,28,30,32,34,36,38,40],
              "encode": {"ticks": {"update": {"y2": {"signal": "datum.value % 10 === 0 ? 7 : 3.5"}}}}}},
            "y": {"field": "v", "type": "quantitative", "axis": {"orient": "right", "labels": false, "title": null, "values": [-1,-0.5,0,0.5,1,1.5],
              "encode": {"ticks": {"update": {"x2": {"signal": "datum.value % 1 === 0 ? -7 : -3.5"}}}}}},
            "color": {"field": "s", "type": "nominal", "legend": null}
          }
        }
      ]
    }
  ]
}
